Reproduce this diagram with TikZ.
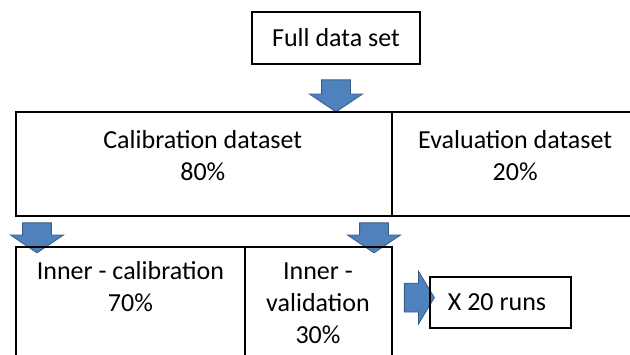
\documentclass[tikz,border=0pt]{standalone}
\usepackage{fontspec}
\setmainfont{Carlito}
\usetikzlibrary{shapes.arrows}
\definecolor{arrowblue}{RGB}{79,129,189}
\definecolor{arrowedge}{RGB}{56,93,138}
\tikzset{
  boxtext/.style={align=center,inner sep=0pt,font=\fontsize{18.5}{22.7}\selectfont},
  blockarrow/.style={single arrow,draw=arrowedge,fill=arrowblue,line width=.6pt,
    inner xsep=0pt,inner ysep=.35cm,minimum width=1.3cm,single arrow head extend=.3cm,
    single arrow tip angle=112,single arrow head indent=0pt},
  downarrow/.style={blockarrow,shape border rotate=270,inner xsep=.35cm,inner ysep=0pt},
}
\begin{document}
\begin{tikzpicture}
\useasboundingbox(0,0)rectangle(15.75,8.85);
\clip(0,0)rectangle(15.75,8.85);
\node[draw,line width=1pt,boxtext,minimum width=4.2cm,minimum height=1.3cm](full)at(8.4,7.9){Full data set};
\node[downarrow,minimum height=.8cm](arrfull)at(8.4,6.575){};
\draw[line width=2.1pt](.4,3.45)rectangle(16,6.05);
\draw[line width=1pt](9.8,3.45)--(9.8,6.05);
\node[boxtext](calib)at(5.07,4.95){Calibration dataset\\80\%};
\node[boxtext](eval)at(12.88,4.95){Evaluation dataset\\20\%};
\node[downarrow,minimum height=.75cm](arrcal)at(.925,3.025){};
\node[downarrow,minimum height=.75cm](arrval)at(9.35,3.025){};
\draw[line width=2pt](.4,-1)rectangle(9.8,2.675);
\draw[line width=1.3pt](6.125,-1)--(6.125,2.675);
\node[boxtext](incal)at(3.26,1.69){Inner - calibration\\70\%};
\node[boxtext](inval)at(7.95,1.275){Inner -\\validation\\30\%};
\node[downarrow,minimum height=.75cm,single arrow tip angle=118,rotate=90](arrruns)at(10.375,1.41){};
\node[draw,line width=1pt,boxtext,align=flush left,text width=2.625cm,inner xsep=.45cm,minimum height=1.275cm](runs)at(12.51,1.29){X 20 runs};
\end{tikzpicture}
\end{document}
